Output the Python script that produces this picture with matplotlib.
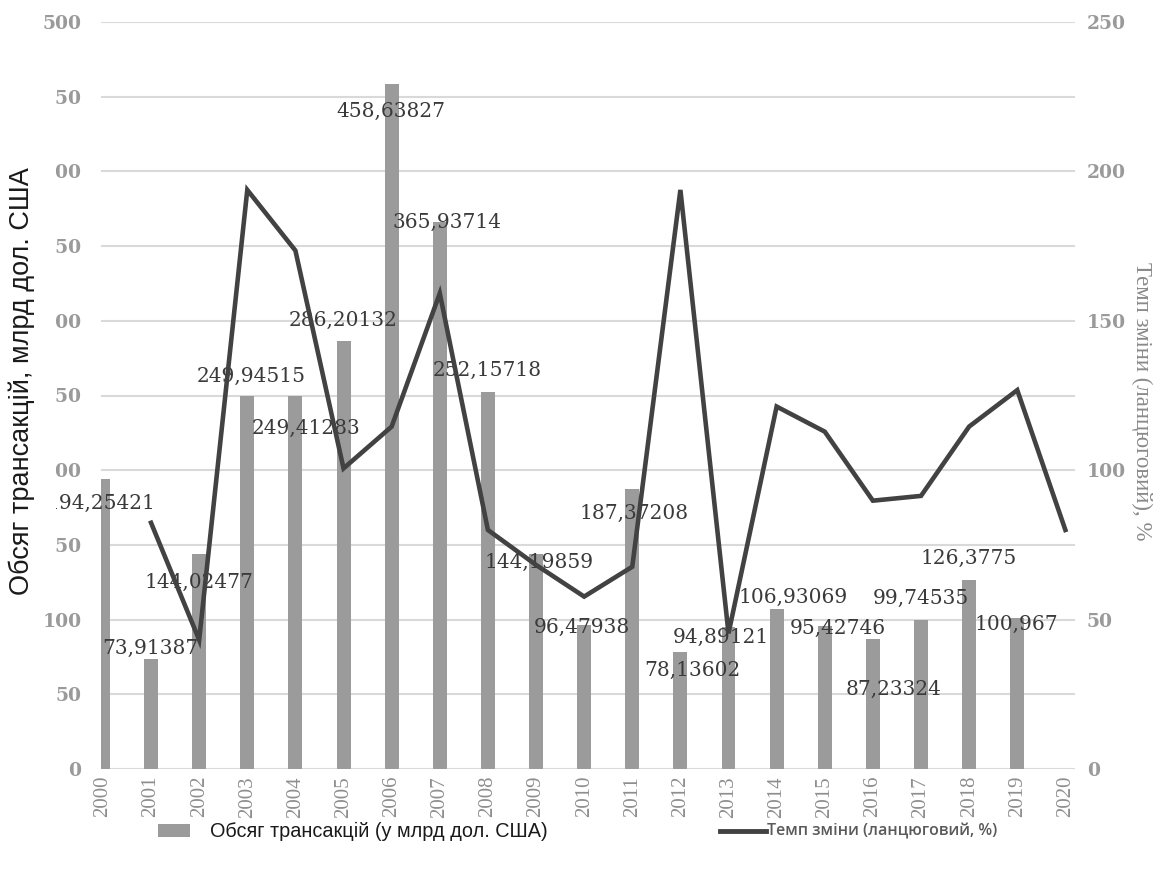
import numpy as np
import matplotlib
matplotlib.use('Agg')
import matplotlib.pyplot as plt
from matplotlib.patches import Rectangle
from matplotlib.lines import Line2D

# years on the category axis
years = [str(y) for y in range(2000, 2021)]

# transaction volume, bln USD (2000-2019)
volumes = [194.25421, 73.91387, 144.02477, 249.94515, 249.41283, 286.20132,
           458.63827, 365.93714, 252.15718, 144.19859, 96.47938, 187.37208,
           78.13602, 94.89121, 106.93069, 95.42746, 87.23324, 99.74535,
           126.3775, 100.967]

# chain growth rate, % (2001-2020)
growth = [82.4, 43.2, 193.8, 173.5, 100.6, 114.6, 159.2, 80.0, 68.3, 57.7,
          67.7, 193.8, 45.4, 121.3, 112.9, 89.8, 91.4, 114.6, 126.8, 80.0]

# where each value label sits (x in categories, y in bln USD)
label_x = [-0.04, 0.98, 2.0, 3.08, 4.22, 4.99, 5.99, 7.15, 7.98, 9.06,
           9.96, 11.04, 12.25, 12.85, 14.35, 15.28, 16.42, 16.99, 17.98, 18.98]
label_y = [178, 81, 125, 263, 228, 300, 440, 366, 267, 138,
           95, 171, 66, 88, 115, 94, 53, 114, 141, 97]

bar_color = '#9b9b9b'
line_color = '#424242'
tick_color = '#9a9a9a'

fig = plt.figure(figsize=(11.6, 8.77), dpi=100)
ax = fig.add_axes([101 / 1160, 1 - 769 / 877, 974 / 1160, 747 / 877])

x = np.arange(len(years))
ax.bar(x[:len(volumes)], volumes, width=0.29, color=bar_color, zorder=2)

ax.set_xlim(-0.04, 20.2)
ax.set_ylim(0, 500)
ax.set_yticks(range(0, 501, 50))
ax.set_xticks(x)
ax.set_xticklabels(years, rotation=90, fontsize=15, color='#8e8e8e',
                   fontfamily='Liberation Serif')
ax.yaxis.grid(True, color='#d9d9d9', linewidth=1.5, zorder=0)
ax.set_axisbelow(True)
for lbl in ax.get_yticklabels():
    lbl.set_fontfamily('DejaVu Serif')
    lbl.set_fontsize(13.5)
    lbl.set_color(tick_color)
    lbl.set_fontweight('bold')
ax.tick_params(axis='both', length=0)
ax.tick_params(axis='y', pad=14)
ax.tick_params(axis='x', pad=5)
for s in ax.spines.values():
    s.set_visible(False)

# value labels
for v, lx, ly in zip(volumes, label_x, label_y):
    ax.text(lx, ly, str(v).replace('.', ','), ha='center', va='center',
            fontsize=14.5, color='#3a3a3a', fontfamily='DejaVu Serif', zorder=3)

# growth rate on the right axis
ax2 = ax.twinx()
ax2.plot(x[1:], growth, color=line_color, linewidth=3.3, solid_joinstyle='miter')
ax2.set_ylim(0, 250)
ax2.set_yticks(range(0, 251, 50))
ax2.tick_params(axis='y', length=0, pad=8.6)
for lbl in ax2.get_yticklabels():
    lbl.set_fontfamily('DejaVu Serif')
    lbl.set_fontsize(13.5)
    lbl.set_color(tick_color)
    lbl.set_fontweight('bold')
for s in ax2.spines.values():
    s.set_visible(False)

fig.text(0.9845, 0.5428, 'Темп зміни (ланцюговий), %', rotation=270,
         ha='center', va='center', fontsize=16.5, color='#8a8a8a',
         fontfamily='Liberation Serif')

# left axis title sits on a white strip over the tick labels
fig.add_artist(Rectangle((0, 1 - 595 / 877), 56 / 1160, 555 / 877,
                         transform=fig.transFigure, facecolor='white',
                         edgecolor='none', zorder=5))
fig.text(0.019, 0.5656, 'Обсяг трансакцій, млрд дол. США', rotation=90,
         ha='center', va='center', fontsize=19.5, color='#1a1a1a',
         fontfamily=['Liberation Sans', 'DejaVu Sans'], zorder=6)

# legend
ly = 1 - 831 / 877
fig.add_artist(Rectangle((158 / 1160, ly - 6 / 877), 32 / 1160, 13 / 877,
                         transform=fig.transFigure, facecolor=bar_color,
                         edgecolor='none'))
fig.text(210 / 1160, ly, 'Обсяг трансакцій (у млрд дол. США)', ha='left',
         va='center', fontsize=14.3, color='#1a1a1a',
         fontfamily=['Liberation Sans', 'DejaVu Sans'])
fig.add_artist(Line2D([720 / 1160, 766 / 1160], [ly, ly],
                      transform=fig.transFigure, color=line_color, linewidth=3.5))
fig.text(767 / 1160, ly, 'Темп зміни (ланцюговий, %)', ha='left', va='center',
         fontsize=11.5, color='#5a5a5a', fontweight='semibold',
         fontfamily=['Open Sans', 'DejaVu Sans'])

fig.savefig('out.png', dpi=100, facecolor='white')
